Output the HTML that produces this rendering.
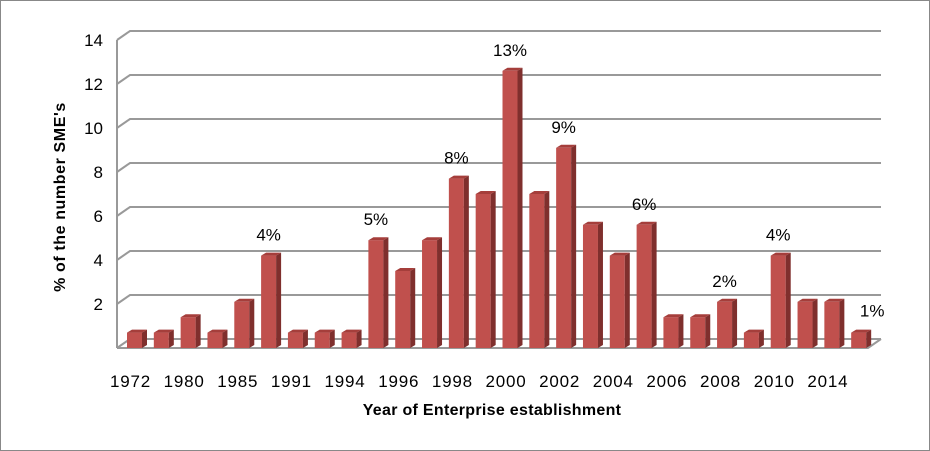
<!DOCTYPE html>
<html><head><meta charset="utf-8"><style>
body{margin:0;background:#fff}
svg{display:block;font-family:"Liberation Sans",sans-serif}
</style></head><body>
<svg id="chart" width="930" height="451" viewBox="0 0 930 451" xmlns="http://www.w3.org/2000/svg">
<rect x="0.5" y="0.5" width="929" height="450" fill="#fff" stroke="#888"/>
<g id="grid"></g><g id="bars"></g><g id="labels"></g>
<text transform="translate(65,197) rotate(-90)" text-anchor="middle" font-size="16" font-weight="bold" letter-spacing="0.6" fill="#000">% of the number  SME's</text>
<text x="492" y="415" text-anchor="middle" font-size="16" font-weight="bold" letter-spacing="0.3" fill="#000">Year of Enterprise establishment</text>
</svg>
<script>
const values=[0.7,0.7,1.4,0.7,2.1,4.2,0.7,0.7,0.7,4.9,3.5,4.9,7.7,7.0,12.6,7.0,9.1,5.6,4.2,5.6,1.4,1.4,2.1,0.7,4.2,2.1,2.1,0.7];
const xLabels=["1972","","1980","","1985","","1991","","1994","","1996","","1998","","2000","","2002","","2004","","2006","","2008","","2010","","2014",""];
const dataLabels=["","","","","","4%","","","","5%","","","8%","","13%","","9%","","","6%","","","2%","","4%","","","1%"];
const yTicks=[2,4,6,8,10,12,14];
const NS="http://www.w3.org/2000/svg";
const X0=117,X1=868,Y0=348,K=22,DX=13,DY=-9;
const slot=(X1-X0)/values.length;
const y=v=>Y0-v*K;
const x=i=>X0+i*slot;
function mk(tag,attrs,parent,text){const e=document.createElementNS(NS,tag);for(const k in attrs)e.setAttribute(k,attrs[k]);if(text!==undefined)e.textContent=text;parent.appendChild(e);return e;}
const grid=document.getElementById('grid'),bars=document.getElementById('bars'),labels=document.getElementById('labels');
let f=mk('polyline',{points:`${X0},${Y0} ${X1},${Y0} ${X1+DX},${Y0+DY}`,fill:'none',stroke:'#999','stroke-width':2},grid);


let la=mk('line',{x1:X0,y1:Y0,x2:X0,y2:y(14),stroke:'#999','stroke-width':2},grid);


[0].concat(yTicks).forEach(t=>{
  const g=mk('polyline',{points:`${X0},${y(t)} ${X0+DX},${y(t)+DY} ${X1+DX},${y(t)+DY}`,fill:'none',stroke:'#999','stroke-width':2},grid);
  
  
  if(t>0){const tl=mk('text',{x:103,y:y(t)+6,'text-anchor':'end','font-size':17,fill:'#000'},labels,String(t));
  
  }
});
values.forEach((v,i)=>{
  const bx=x(i)+10,bw=15,d=5,dd=-3,top=y(v);
  const g=mk('g',{},bars);
  
  
  mk('rect',{x:bx,y:top,width:bw,height:Y0-top,fill:'#c0504d'},g);
  mk('polygon',{points:`${bx+bw},${top} ${bx+bw+d},${top+dd} ${bx+bw+d},${Y0+dd} ${bx+bw},${Y0}`,fill:'#7f2f2d'},g);
  mk('polygon',{points:`${bx},${top} ${bx+d},${top+dd} ${bx+bw+d},${top+dd} ${bx+bw},${top}`,fill:'#a53e3b'},g);
  if(xLabels[i]){const t=mk('text',{x:bx+bw/2-4,y:387,'text-anchor':'middle','font-size':17,'letter-spacing':'0.8',fill:'#000'},labels,xLabels[i]);
    
    }
  if(dataLabels[i]){const last=i===values.length-1;
    const t=mk('text',{x:last?bx+bw+6:bx+bw/2,y:last?top-16:top-15,'text-anchor':'middle','font-size':17,fill:'#000'},labels,dataLabels[i]);
    
    }
});
</script>
</body></html>
